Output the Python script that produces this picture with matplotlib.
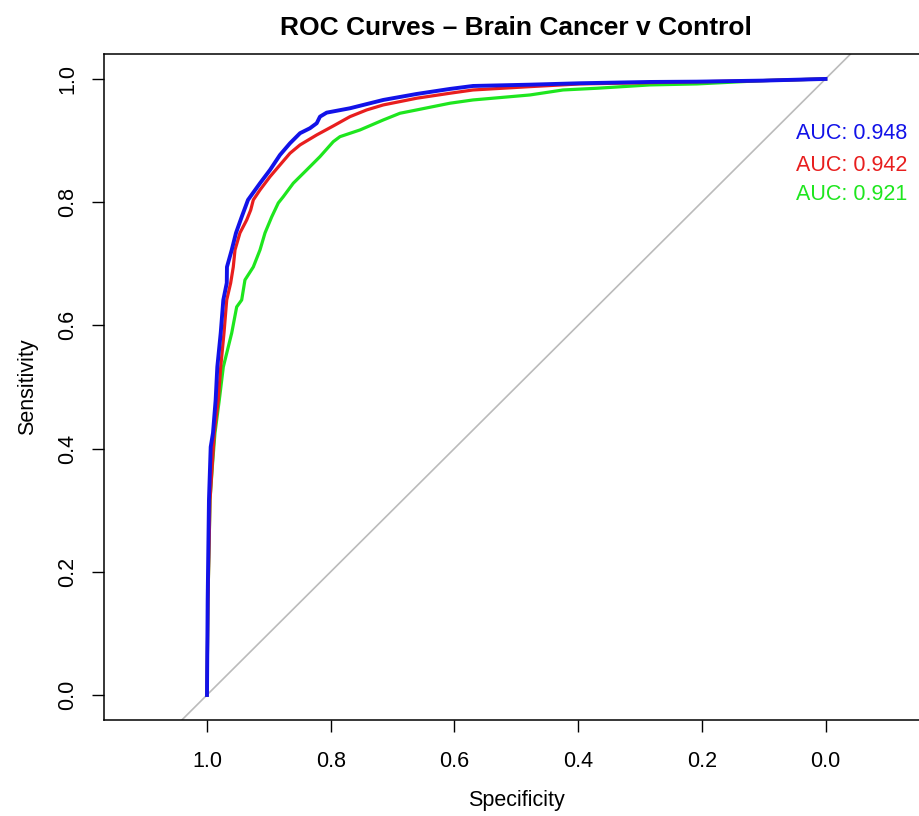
import matplotlib
matplotlib.use("Agg")
import matplotlib.pyplot as plt

plt.rcParams['font.family'] = ['Liberation Sans', 'DejaVu Sans']

title = "ROC Curves \u2013 Brain Cancer v Control"
x_label = "Specificity"
y_label = "Sensitivity"
ticks = [1.0, 0.8, 0.6, 0.4, 0.2, 0.0]
tick_labels = ["1.0", "0.8", "0.6", "0.4", "0.2", "0.0"]

# Blue curve (AUC 0.948)
blue_spec = [1.000, 0.9989, 0.9968, 0.994, 0.9903, 0.986, 0.9833, 0.9778, 0.9736, 0.968, 0.9677,
             0.960, 0.9531, 0.9439, 0.9337, 0.9143, 0.8981, 0.882, 0.8658, 0.8496, 0.8335, 0.8226,
             0.8173, 0.8065, 0.7688, 0.715, 0.661, 0.6071, 0.5699, 0.4778, 0.3969, 0.2838, 0.2078,
             0.101, 0.0]
blue_sens = [0.000, 0.154, 0.3166, 0.4026, 0.4253, 0.4789, 0.5325, 0.5877, 0.6412, 0.6688, 0.6948,
             0.7224, 0.750, 0.776, 0.8036, 0.8307, 0.8523, 0.8766, 0.8956, 0.9119, 0.920, 0.9281,
             0.9388, 0.9453, 0.9524, 0.9659, 0.9756, 0.9838, 0.9886, 0.9907, 0.993, 0.9951, 0.9956,
             0.9973, 1.0]

# Red curve (AUC 0.942)
red_spec = [1.000, 0.9984, 0.9951, 0.9882, 0.9817, 0.9778, 0.9725, 0.9681, 0.9617, 0.9575, 0.9547,
            0.9467, 0.9358, 0.9293, 0.9251, 0.9143, 0.8981, 0.882, 0.8658, 0.8496, 0.8226, 0.7958,
            0.7688, 0.7418, 0.715, 0.661, 0.6071, 0.5699, 0.4778, 0.3969, 0.2838, 0.101, 0.0]
red_sens = [0.000, 0.154, 0.3166, 0.4253, 0.4789, 0.5325, 0.5877, 0.6412, 0.6688, 0.6948, 0.7224,
            0.750, 0.7711, 0.7873, 0.8036, 0.8198, 0.8414, 0.8604, 0.8794, 0.8929, 0.9091, 0.9237,
            0.9388, 0.9497, 0.9578, 0.9687, 0.9768, 0.9821, 0.9875, 0.9919, 0.994, 0.9973, 1.0]

# Green curve (AUC 0.921)
green_spec = [1.000, 0.9984, 0.9951, 0.9914, 0.9871, 0.9801, 0.9736, 0.960, 0.952, 0.9439, 0.9386,
              0.9251, 0.9143, 0.9062, 0.8954, 0.8847, 0.8766, 0.8605, 0.8388, 0.8173, 0.7958, 0.785,
              0.7526, 0.715, 0.688, 0.661, 0.6071, 0.5699, 0.4778, 0.4244, 0.3694, 0.2838, 0.2078,
              0.101, 0.0]
green_sens = [0.000, 0.154, 0.3166, 0.3701, 0.4253, 0.4789, 0.5325, 0.5877, 0.6299, 0.6412, 0.6737,
              0.6948, 0.7224, 0.750, 0.776, 0.7987, 0.8089, 0.8307, 0.8523, 0.8739, 0.8982, 0.9063,
              0.9172, 0.9334, 0.9443, 0.9497, 0.9606, 0.9659, 0.974, 0.9821, 0.9849, 0.9903, 0.9919,
              0.9973, 1.0]

auc_labels = ["AUC: 0.948", "AUC: 0.942", "AUC: 0.921"]
auc_y = [0.911, 0.860, 0.812]
auc_x = 0.048

c_blue = "#1212E8"
c_red = "#E81E1E"
c_green = "#1EE61E"

fig = plt.figure(figsize=(9.19, 8.16), dpi=100)
ax = fig.add_axes([104 / 919, (816 - 719.6) / 816, (928.5 - 104) / 919, 665.3 / 816])
ax.set_xlim(1.1665, -0.1665)
ax.set_ylim(-0.04, 1.04)

ax.axline((1, 0), (0, 1), color="#BBBBBB", lw=1.2, zorder=1)
ax.plot(green_spec, green_sens, color=c_green, lw=2.3, zorder=2)
ax.plot(red_spec, red_sens, color=c_red, lw=2.3, zorder=3)
ax.plot(blue_spec, blue_sens, color=c_blue, lw=2.8, zorder=4)

for lab, yy, col in zip(auc_labels, auc_y, [c_blue, c_red, c_green]):
    ax.text(auc_x, yy, lab, color=col, fontsize=15.5, ha="left", va="center")

ax.set_xticks(ticks)
ax.set_xticklabels(tick_labels)
ax.set_yticks(ticks)
ax.set_yticklabels(tick_labels, rotation=90, va="center")
ax.tick_params(axis="both", length=8.6, width=1.0, labelsize=15.5, direction="out")
ax.tick_params(axis="x", pad=14)
ax.tick_params(axis="y", pad=10)
for s in ax.spines.values():
    s.set_linewidth(1.1)
ax.spines["right"].set_visible(False)

ax.set_xlabel(x_label, fontsize=15.5, labelpad=13)
ax.set_ylabel(y_label, fontsize=15.5, labelpad=14)
fig.text((104 + 928.5) / 2 / 919, 1 - 28 / 816, title, fontsize=19, fontweight="bold",
         ha="center", va="center")

fig.savefig("out.png", dpi=100)
